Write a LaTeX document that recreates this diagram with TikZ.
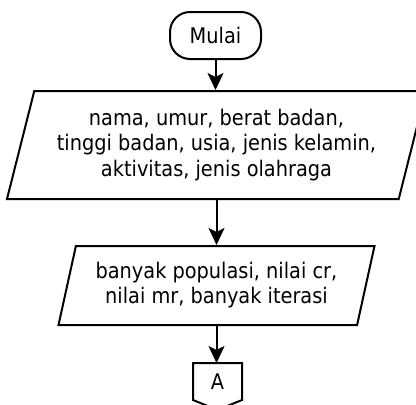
\documentclass[tikz,border=0pt]{standalone}
\usepackage{fontspec}
\setmainfont{DejaVu Sans Condensed}
\usetikzlibrary{shapes.geometric,arrows.meta}
\begin{document}
\begin{tikzpicture}[x=1pt,y=-1pt,
  base/.style={draw, line width=2pt, font=\fontsize{21.5pt}{25.5pt}\selectfont, align=center, inner sep=0pt},
  term/.style={base, rectangle, rounded corners=20pt, minimum width=91pt, minimum height=47pt},
  io/.style={base, trapezium, trapezium left angle=69.2, trapezium right angle=110.8, trapezium stretches body},
  arr/.style={line width=2pt, -{Stealth[length=17pt, width=16pt, inset=4pt]}}]
\path[use as bounding box, clip] (0,0) rectangle (416,405);
\node[term] (start) at (215.5,35.5) {Mulai};
\node[io, minimum width=419pt, minimum height=108pt] (in1) at (216.5,145)
  {nama, umur, berat badan,\\tinggi badan, usia, jenis kelamin,\\aktivitas, jenis olahraga};
\node[io, font=\fontsize{21.5pt}{25pt}\selectfont, minimum width=316pt, minimum height=79pt] (in2) at (216.5,285.5)
  {banyak populasi, nilai cr,\\nilai mr, banyak iterasi};
\node[font=\fontsize{21.5pt}{25pt}\selectfont, inner sep=0pt] (conn) at (217.5,382) {A};
\coordinate (ctop) at (217.5,363);
\draw[line width=2pt] (193,363) -- (242,363) -- (242,400) -- (217.5,410) -- (193,400) -- cycle;
\draw[arr] (start.south) -- (start.south |- in1.north);
\draw[arr] (in1.south) -- (in1.south |- in2.north);
\draw[arr] (in2.south) -- (in2.south |- ctop);
\end{tikzpicture}
\end{document}
